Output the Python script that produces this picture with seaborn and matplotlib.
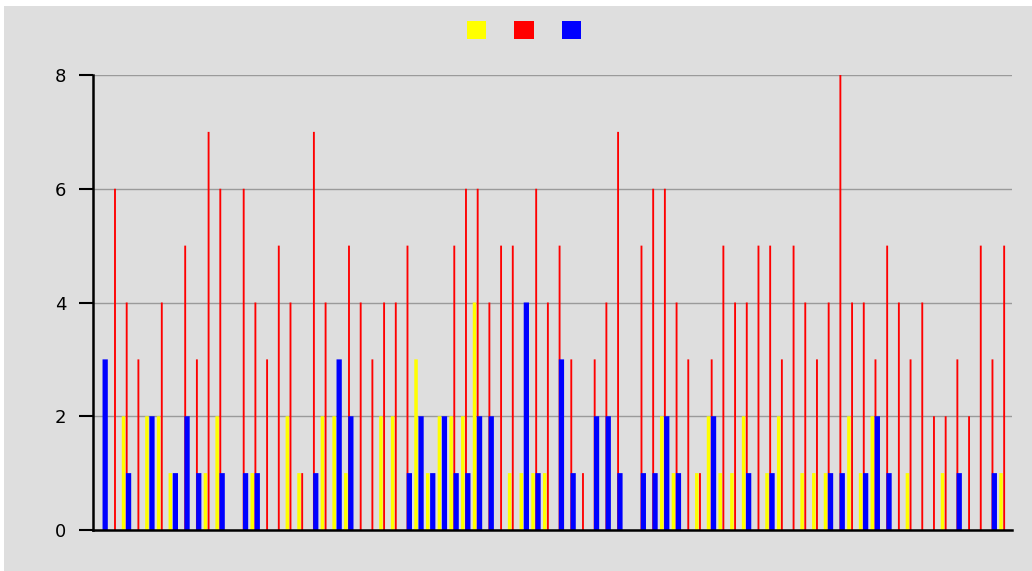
import matplotlib
matplotlib.use("Agg")
import matplotlib.pyplot as plt
import matplotlib.patches as mpatches
import seaborn as sns
import pandas as pd

# values per group (78 groups)
yellow = [0, 0, 2, 0, 2, 2, 1, 0, 0, 1, 2, 0, 0, 1, 0, 0, 2, 1, 0, 2,
          2, 1, 0, 0, 2, 2, 0, 3, 1, 2, 2, 2, 4, 0, 0, 1, 1, 1, 1, 0,
          0, 0, 0, 0, 0, 0, 0, 0, 2, 1, 0, 1, 2, 1, 1, 2, 0, 1, 2, 0,
          1, 1, 1, 0, 2, 1, 2, 0, 0, 1, 0, 0, 1, 0, 0, 0, 0, 1]
red = [0, 6, 4, 3, 0, 4, 0, 5, 3, 7, 6, 0, 6, 4, 3, 5, 4, 1, 7, 4,
       0, 5, 4, 3, 4, 4, 5, 0, 0, 0, 5, 6, 6, 4, 5, 5, 0, 6, 4, 5,
       3, 1, 3, 4, 7, 0, 5, 6, 6, 4, 3, 1, 3, 5, 4, 4, 5, 5, 3, 5,
       4, 3, 4, 8, 4, 4, 3, 5, 4, 3, 4, 2, 2, 3, 2, 5, 3, 5]
blue = [3, 0, 1, 0, 2, 0, 1, 2, 1, 0, 1, 0, 1, 1, 0, 0, 0, 0, 1, 0,
        3, 2, 0, 0, 0, 0, 1, 2, 1, 2, 1, 1, 2, 2, 0, 0, 4, 1, 0, 3,
        1, 0, 2, 2, 1, 0, 1, 1, 2, 1, 0, 0, 2, 0, 0, 1, 0, 1, 0, 0,
        0, 0, 1, 1, 0, 1, 2, 1, 0, 0, 0, 0, 0, 1, 0, 0, 1, 0]
series_names = ["s1", "s2", "s3"]
series_colors = ["#ffff00", "#ff0000", "#0000ff"]
y_ticks = [0, 2, 4, 6, 8]

BG = "#dedede"

groups = list(range(len(red)))
df = pd.DataFrame({
    "group": groups * 3,
    "series": [series_names[0]] * len(groups) + [series_names[1]] * len(groups) + [series_names[2]] * len(groups),
    "value": yellow + red + blue,
})

fig = plt.figure(figsize=(10.32, 5.71), dpi=100, facecolor="white")
fig.patches.append(mpatches.Rectangle((4 / 1032, 0), 1, 565 / 571, transform=fig.transFigure,
                                      facecolor=BG, edgecolor="none", zorder=-10))
ax = fig.add_axes([93 / 1032, 41 / 571, 919 / 1032, 455 / 571])
ax.set_facecolor(BG)

sns.barplot(data=df, x="group", y="value", hue="series", hue_order=series_names,
            palette=series_colors, ax=ax, errorbar=None, saturation=1, legend=True)

# yellow left and narrow, red a thin line, blue wide and slightly right
offsets = [-0.27, 0.0, 0.16]
widths = [0.30, 0.16, 0.45]
for cont, off, w in zip(ax.containers, offsets, widths):
    for i, bar in enumerate(cont):
        bar.set_width(w)
        bar.set_x(i + off - w / 2)
        bar.set_edgecolor("none")
        bar.set_snap(False)

ax.set_xlim(-0.88, 77.67)
ax.set_ylim(0, 8)
ax.set_yticks(y_ticks)
ax.set_xticks([])
ax.set_xlabel("")
ax.set_ylabel("")
ax.yaxis.grid(True, color="#9a9a9a", linewidth=1)
ax.set_axisbelow(True)
for s in ["top", "right"]:
    ax.spines[s].set_visible(False)
ax.spines["left"].set_color("black")
ax.spines["left"].set_linewidth(1.8)
ax.spines["bottom"].set_color("black")
ax.spines["bottom"].set_linewidth(1.8)
ax.tick_params(axis="y", length=10, width=1.5, pad=9, labelsize=13, colors="black")

handles, _ = ax.get_legend_handles_labels()
ax.get_legend().remove()
fig.legend(handles, ["", "", ""], loc="center", bbox_to_anchor=(524 / 1032, 1 - 31 / 571), ncol=3,
           frameon=False, handlelength=1.0, handleheight=1.0, handletextpad=0.0,
           columnspacing=1.45, fontsize=14)

plt.savefig("out.png", dpi=100, facecolor=fig.get_facecolor())
plt.close()
